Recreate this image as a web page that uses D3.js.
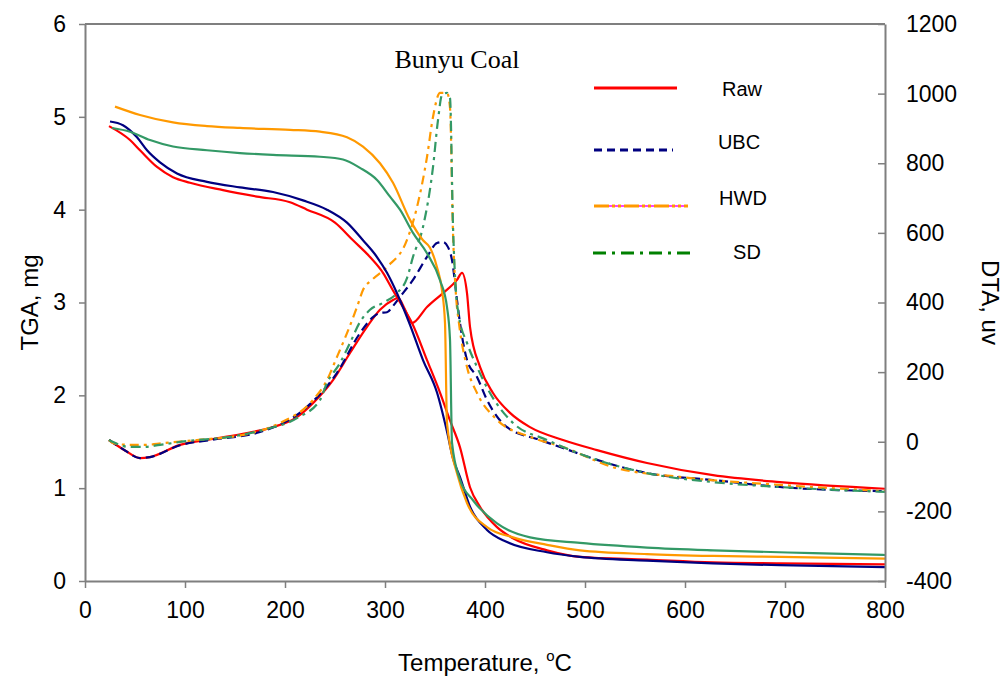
<!DOCTYPE html>
<html>
<head>
<meta charset="utf-8">
<script src="https://cdn.jsdelivr.net/npm/d3@7"></script>
<style>
  body { margin: 0; background: #fff; }
  text { font-family: "Liberation Sans", Arial, sans-serif; fill: #000; }
</style>
</head>
<body>
<svg id="chart" width="1008" height="680"></svg>
<script>
// ---- data ----
var seriesNames = ['Raw', 'UBC', 'HWD', 'SD'];
var tempTicks = [0, 100, 200, 300, 400, 500, 600, 700, 800];
var tgaTicks = [0, 1, 2, 3, 4, 5, 6];
var dtaTicks = [-400, -200, 0, 200, 400, 600, 800, 1000, 1200];

// TGA (mg)
var rawTgaT = [24, 45, 55, 72, 88, 105, 138, 172, 205, 222, 250, 268, 285, 298, 308, 318, 327, 342, 355, 365, 375, 385, 395, 412, 428, 462, 495, 562, 628, 695, 800];
var rawTga  = [4.90, 4.75, 4.64, 4.46, 4.35, 4.29, 4.21, 4.14, 4.08, 4.00, 3.86, 3.67, 3.49, 3.32, 3.13, 2.95, 2.78, 2.38, 2.03, 1.73, 1.44, 1.01, 0.80, 0.58, 0.46, 0.33, 0.26, 0.23, 0.20, 0.19, 0.18];

var ubcTgaT = [25, 38, 52, 62, 75, 92, 122, 155, 188, 218, 242, 262, 278, 292, 302, 312, 325, 338, 352, 362, 368, 375, 385, 402, 422, 462, 495, 562, 628, 695, 800];
var ubcTga  = [4.95, 4.91, 4.78, 4.64, 4.51, 4.39, 4.30, 4.24, 4.19, 4.10, 4.00, 3.86, 3.67, 3.49, 3.32, 3.10, 2.76, 2.38, 2.03, 1.61, 1.32, 1.12, 0.80, 0.55, 0.42, 0.31, 0.26, 0.22, 0.19, 0.17, 0.15];

var hwdTgaT = [30, 55, 88, 122, 155, 205, 235, 262, 278, 295, 308, 325, 338, 345, 352, 357, 360, 362, 372, 382, 402, 428, 462, 495, 562, 628, 695, 800];
var hwdTga  = [5.11, 5.02, 4.94, 4.90, 4.88, 4.86, 4.84, 4.78, 4.68, 4.50, 4.29, 3.89, 3.67, 3.59, 3.38, 3.13, 2.78, 1.70, 1.16, 0.84, 0.58, 0.47, 0.39, 0.33, 0.29, 0.27, 0.26, 0.24];

var sdTgaT = [27, 45, 65, 88, 122, 155, 188, 235, 258, 275, 292, 305, 315, 328, 342, 355, 362, 365, 367, 375, 388, 412, 445, 495, 562, 628, 728, 800];
var sdTga  = [4.88, 4.84, 4.75, 4.68, 4.64, 4.61, 4.59, 4.57, 4.54, 4.45, 4.32, 4.14, 4.00, 3.75, 3.53, 3.24, 2.95, 2.60, 1.49, 1.09, 0.87, 0.62, 0.47, 0.41, 0.36, 0.33, 0.30, 0.28];

// DTA (uv)
var rawDtaT = [24, 40, 55, 65, 95, 128, 162, 188, 212, 228, 248, 265, 282, 295, 308, 313, 320, 327, 342, 358, 372, 377, 382, 385, 395, 408, 425, 445, 478, 512, 562, 628, 695, 800];
var rawDta  = [5, -25, -47, -44, -9, 8, 25, 42, 71, 111, 177, 255, 330, 379, 407, 413, 380, 341, 387, 427, 465, 485, 427, 330, 215, 140, 83, 42, 5, -24, -61, -96, -116, -135];

var ubcDtaT = [24, 40, 55, 65, 95, 128, 175, 222, 252, 275, 288, 295, 302, 308, 315, 328, 342, 352, 358, 363, 367, 372, 375, 382, 392, 402, 422, 455, 478, 512, 562, 628, 695, 800];
var ubcDta  = [5, -25, -47, -44, -10, 6, 28, 100, 198, 312, 358, 370, 372, 390, 416, 465, 531, 571, 574, 559, 522, 407, 341, 235, 186, 120, 42, 5, -18, -52, -90, -110, -130, -142];

var hwdDtaT = [24, 28, 45, 60, 78, 112, 162, 195, 228, 242, 252, 262, 272, 278, 287, 302, 322, 332, 342, 348, 355, 362, 365, 368, 371, 374, 382, 392, 412, 445, 478, 528, 595, 695, 800];
var hwdDta  = [5, -4, -9, -9, -4, 5, 22, 54, 120, 177, 244, 312, 387, 436, 465, 502, 580, 674, 818, 933, 1002, 1002, 960, 600, 420, 340, 215, 140, 63, 14, -15, -73, -101, -124, -142];

var sdDtaT = [24, 45, 58, 75, 102, 145, 178, 212, 235, 242, 255, 265, 275, 285, 298, 312, 322, 328, 338, 348, 353, 357, 362, 365, 368, 371, 374, 382, 392, 405, 428, 462, 512, 562, 628, 695, 800];
var sdDta  = [5, -15, -15, -9, 2, 14, 34, 68, 120, 169, 226, 284, 344, 379, 399, 427, 470, 531, 617, 789, 924, 996, 1002, 987, 620, 430, 360, 284, 215, 140, 54, 5, -52, -90, -116, -130, -144];

// ---- layout ----
var svg = d3.select('#chart');
var margin = { top: 24, right: 123, bottom: 99, left: 85 };
var width = 1008, height = 680;

var x = d3.scaleLinear().domain([0, 800]).range([margin.left, width - margin.right]);
var yTga = d3.scaleLinear().domain([0, 6]).range([height - margin.bottom, margin.top]);
var yDta = d3.scaleLinear().domain([-400, 1200]).range([height - margin.bottom, margin.top]);

var zip = (ts, vs) => ts.map((t, i) => [t, vs[i]]);

var series = [
	{ name: 'Raw', tgaT: rawTgaT, tga: rawTga, dtaT: rawDtaT, dta: rawDta, color: '#ff0000', dash: null },
	{ name: 'UBC', tgaT: ubcTgaT, tga: ubcTga, dtaT: ubcDtaT, dta: ubcDta, color: '#000080', dash: '9,5' },
	{ name: 'HWD', tgaT: hwdTgaT, tga: hwdTga, dtaT: hwdDtaT, dta: hwdDta, color: '#ff9900', dash: '9,5,3,5' },
	{ name: 'SD', tgaT: sdTgaT, tga: sdTga, dtaT: sdDtaT, dta: sdDta, color: '#339966', dash: '10,5,3,5' }
];

var lineTga = d3.line().x((d) => x(d[0])).y((d) => yTga(d[1])).curve(d3.curveMonotoneX);
var lineDta = d3.line().x((d) => x(d[0])).y((d) => yDta(d[1])).curve(d3.curveMonotoneX);

// DTA curves
svg.append('g')
	.selectAll('path')
	.data(series)
	.enter()
	.append('path')
	.attr('d', (s) => lineDta(zip(s.dtaT, s.dta)))
	.attr('fill', 'none')
	.attr('stroke', (s) => s.color)
	.attr('stroke-width', 2.2)
	.attr('stroke-dasharray', (s) => s.dash);

// TGA curves
svg.append('g')
	.selectAll('path')
	.data(series)
	.enter()
	.append('path')
	.attr('d', (s) => lineTga(zip(s.tgaT, s.tga)))
	.attr('fill', 'none')
	.attr('stroke', (s) => s.color)
	.attr('stroke-width', 2.2);

// axes
var axisColor = '#7f7f7f';
var plain = (d) => String(d);   // keep the ASCII hyphen for negatives
var styleAxis = (g) => {
	g.select('.domain').attr('stroke', axisColor).attr('stroke-width', 2);
	g.selectAll('.tick line').attr('stroke', axisColor).attr('stroke-width', 1.5);
	g.selectAll('.tick text').style('font-size', '23px').attr('fill', '#000');
};

svg.append('g')
	.attr('transform', `translate(0,${height - margin.bottom})`)
	.call(d3.axisBottom(x).tickValues(tempTicks).tickFormat(plain).tickSize(7).tickSizeOuter(0).tickPadding(14))
	.call(styleAxis);

svg.append('g')
	.attr('transform', `translate(${margin.left},0)`)
	.call(d3.axisLeft(yTga).tickValues(tgaTicks).tickFormat(plain).tickSize(6).tickSizeOuter(0).tickPadding(13))
	.call(styleAxis);

svg.append('g')
	.attr('transform', `translate(${width - margin.right},0)`)
	.call(d3.axisRight(yDta).tickValues(dtaTicks).tickFormat(plain).tickSizeInner(-7).tickSizeOuter(0).tickPadding(21))
	.call(styleAxis);

// top frame line
svg.append('line')
	.attr('x1', margin.left).attr('x2', width - margin.right)
	.attr('y1', margin.top).attr('y2', margin.top)
	.attr('stroke', axisColor).attr('stroke-width', 2);

// axis titles
svg.append('text')
	.attr('transform', `translate(38,${(margin.top + height - margin.bottom) / 2}) rotate(-90)`)
	.attr('text-anchor', 'middle')
	.style('font-size', '24px')
	.text('TGA, mg');

svg.append('text')
	.attr('transform', `translate(982,${(margin.top + height - margin.bottom) / 2}) rotate(90)`)
	.attr('text-anchor', 'middle')
	.style('font-size', '24px')
	.text('DTA, uv');

var xTitle = svg.append('text')
	.attr('x', x(400))
	.attr('y', 671)
	.attr('text-anchor', 'middle')
	.style('font-size', '24px');
xTitle.append('tspan').text('Temperature, ');
xTitle.append('tspan').attr('dy', -10).style('font-size', '15px').text('o');
xTitle.append('tspan').attr('dy', 10).text('C');

// chart title
svg.append('text')
	.attr('x', 457)
	.attr('y', 68)
	.attr('text-anchor', 'middle')
	.style('font-family', '"Liberation Serif", "Times New Roman", serif')
	.style('font-size', '26px')
	.text('Bunyu Coal');

// legend
var legendRows = [
	{ name: 'Raw', y: 88, x1: 594, x2: 677, tx: 742, ty: 96 },
	{ name: 'UBC', y: 150, x1: 594, x2: 673, tx: 739, ty: 149 },
	{ name: 'HWD', y: 206, x1: 594, x2: 688, tx: 743, ty: 205 },
	{ name: 'SD', y: 253, x1: 593, x2: 690, tx: 747, ty: 259 }
];
var legendDash = { Raw: null, UBC: '8,5', HWD: '15,3,3,3,3,3', SD: '13,6,3,6' };
var legendColor = { Raw: '#ff0000', UBC: '#000080', HWD: '#ff9900', SD: '#008000' };

var leg = svg.append('g').selectAll('g').data(legendRows).enter().append('g');
leg.filter((d) => d.name === 'HWD')
	.append('line')
	.attr('x1', (d) => d.x1).attr('x2', (d) => d.x2)
	.attr('y1', (d) => d.y).attr('y2', (d) => d.y)
	.attr('stroke', '#ff00ff').attr('stroke-width', 1.5);
leg.append('line')
	.attr('x1', (d) => d.x1).attr('x2', (d) => d.x2)
	.attr('y1', (d) => d.y).attr('y2', (d) => d.y)
	.attr('stroke', (d) => legendColor[d.name])
	.attr('stroke-width', 3)
	.attr('stroke-dasharray', (d) => legendDash[d.name]);
leg.append('text')
	.attr('x', (d) => d.tx).attr('y', (d) => d.ty)
	.attr('text-anchor', 'middle')
	.style('font-size', '20px')
	.text((d) => d.name);
</script>
</body>
</html>
